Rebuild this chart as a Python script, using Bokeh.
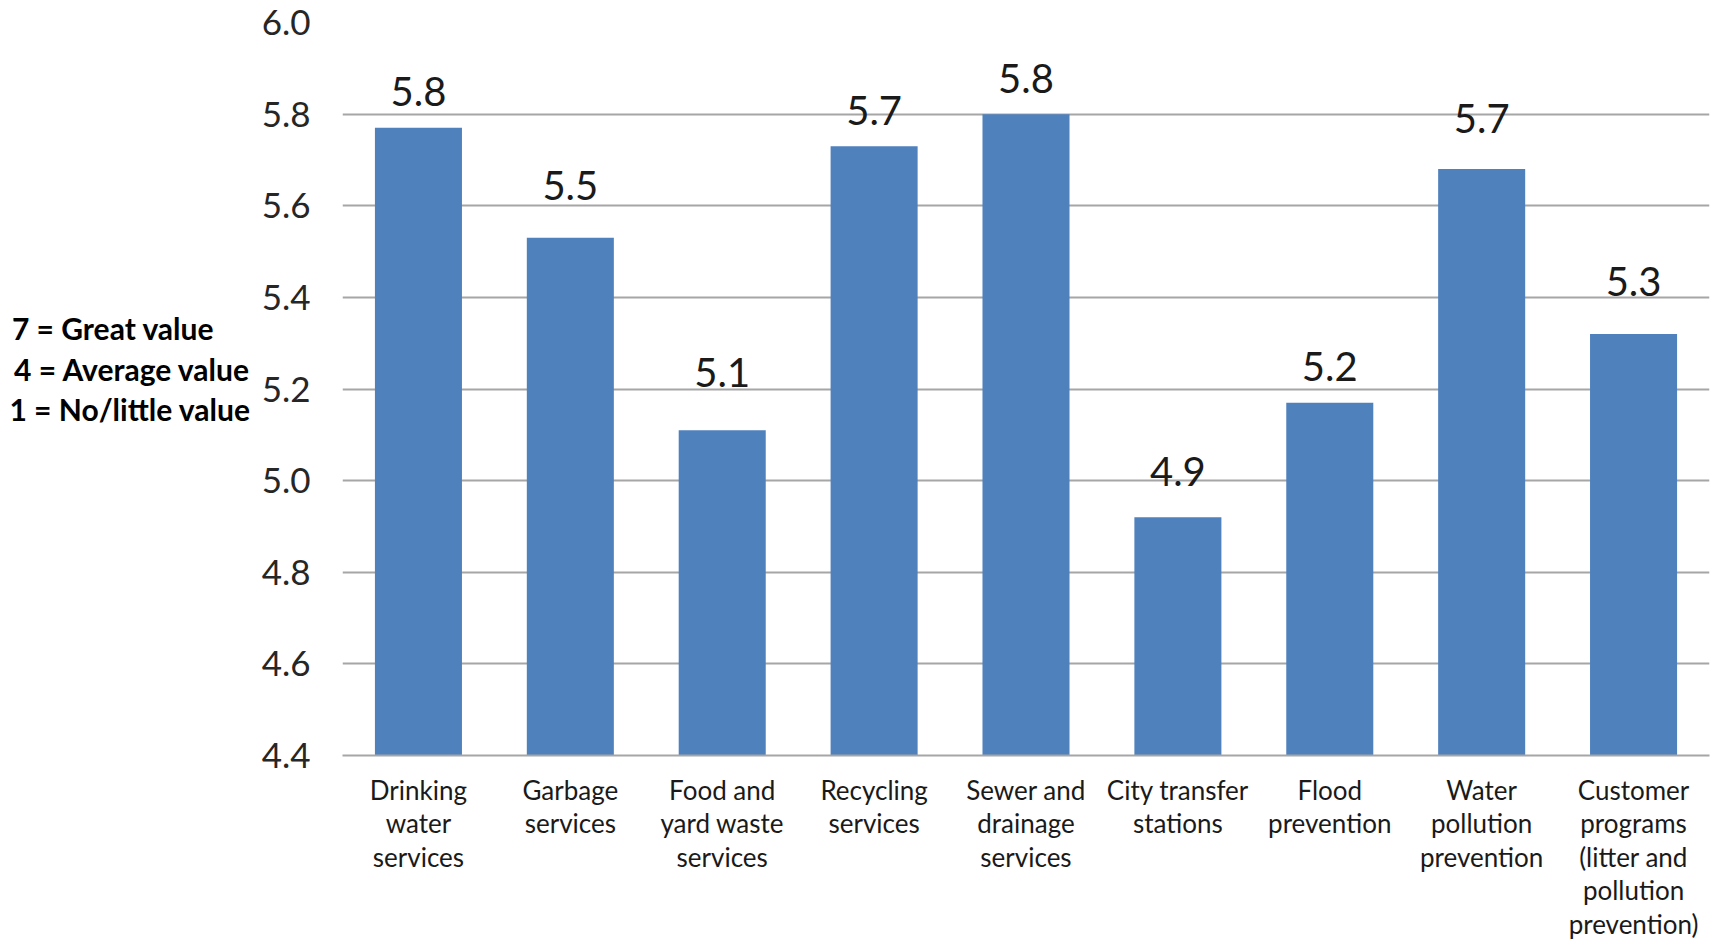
from bokeh.plotting import figure
from bokeh.models import Range1d, FixedTicker, ColumnDataSource
from bokeh.core.properties import value
from bokeh.embed import file_html
from bokeh.resources import INLINE

# ---- data ----
categories = [
    "Drinking\nwater\nservices",
    "Garbage\nservices",
    "Food and\nyard waste\nservices",
    "Recycling\nservices",
    "Sewer and\ndrainage\nservices",
    "City transfer\nstations",
    "Flood\nprevention",
    "Water\npollution\nprevention",
    "Customer\nprograms\n(litter and\npollution\nprevention)",
]
scores = [5.77, 5.53, 5.11, 5.73, 5.80, 4.92, 5.17, 5.68, 5.32]
score_labels = ["5.8", "5.5", "5.1", "5.7", "5.8", "4.9", "5.2", "5.7", "5.3"]
y_ticks = [4.4, 4.6, 4.8, 5.0, 5.2, 5.4, 5.6, 5.8, 6.0]
scale_notes = ["7 = Great value", "4 = Average value", "1 = No/little value"]

# ---- style ----
label_gap_px = [36, 52, 58, 36, 36, 46, 36, 51, 53]
note_pad = [5, 0, 0]          # non-breaking spaces so the lines read left-aligned
BAR = "#4F81BD"
GRID = "#a6a6a6"
FONT = "Lato"
NBSP = "\u00a0"

W, H = 1719, 942
LEFT, RIGHT, TOP, BOTTOM = 342, 10, 22, 186

n = len(categories)
xs = [i + 0.5 for i in range(n)]

p = figure(width=W, height=H, output_backend="svg", toolbar_location=None,
           x_range=Range1d(0, n), y_range=Range1d(y_ticks[0], y_ticks[-1]),
           min_border_left=LEFT, min_border_right=RIGHT,
           min_border_top=TOP, min_border_bottom=BOTTOM)
p.outline_line_color = None
p.background_fill_color = "white"
p.border_fill_color = "white"

src = ColumnDataSource(dict(x=xs, top=scores, lab=score_labels,
                            yo=[-g for g in label_gap_px]))
p.vbar(x="x", top="top", bottom=y_ticks[0], width=0.573, source=src,
       fill_color=BAR, line_color=None)

p.text(x="x", y="top", text="lab", y_offset="yo", source=src,
       text_align="center", text_baseline="alphabetic",
       text_font=value(FONT), text_font_size="40px", text_color="#1a1a1a")

# y axis
p.yaxis.ticker = FixedTicker(ticks=y_ticks)
p.yaxis.major_label_overrides = {t: f"{t:.1f}" for t in y_ticks}
p.yaxis.axis_line_color = None
p.yaxis.major_tick_line_color = None
p.yaxis.minor_tick_line_color = None
p.yaxis.major_label_standoff = 26
p.yaxis.major_label_text_font = FONT
p.yaxis.major_label_text_font_size = "35px"
p.yaxis.major_label_text_color = "#262626"

# scale notes as a horizontal axis label on the left
note_lines = [t + NBSP * k for t, k in zip(scale_notes, note_pad)]
p.yaxis.axis_label = "\n".join(note_lines) + "\n" + NBSP
p.yaxis.axis_label_orientation = "horizontal"
p.yaxis.axis_label_text_font = FONT
p.yaxis.axis_label_text_font_size = "30px"
p.yaxis.axis_label_text_font_style = "bold"
p.yaxis.axis_label_text_color = "#000000"
p.yaxis.axis_label_text_line_height = 1.125
p.yaxis.axis_label_standoff = 8

p.ygrid.ticker = FixedTicker(ticks=y_ticks)
p.ygrid.grid_line_color = GRID
p.ygrid.grid_line_width = 2
p.xgrid.grid_line_color = None

# x axis
p.xaxis.ticker = FixedTicker(ticks=xs)
p.xaxis.major_label_overrides = {x: c for x, c in zip(xs, categories)}
p.xaxis.axis_line_color = GRID
p.xaxis.axis_line_width = 2
p.xaxis.major_tick_line_color = None
p.xaxis.minor_tick_line_color = None
p.xaxis.major_label_standoff = 12
p.xaxis.major_label_text_font = FONT
p.xaxis.major_label_text_font_size = "26px"
p.xaxis.major_label_text_line_height = 1.05
p.xaxis.major_label_text_color = "#1a1a1a"

open("out.html", "w").write(file_html(p, INLINE))
